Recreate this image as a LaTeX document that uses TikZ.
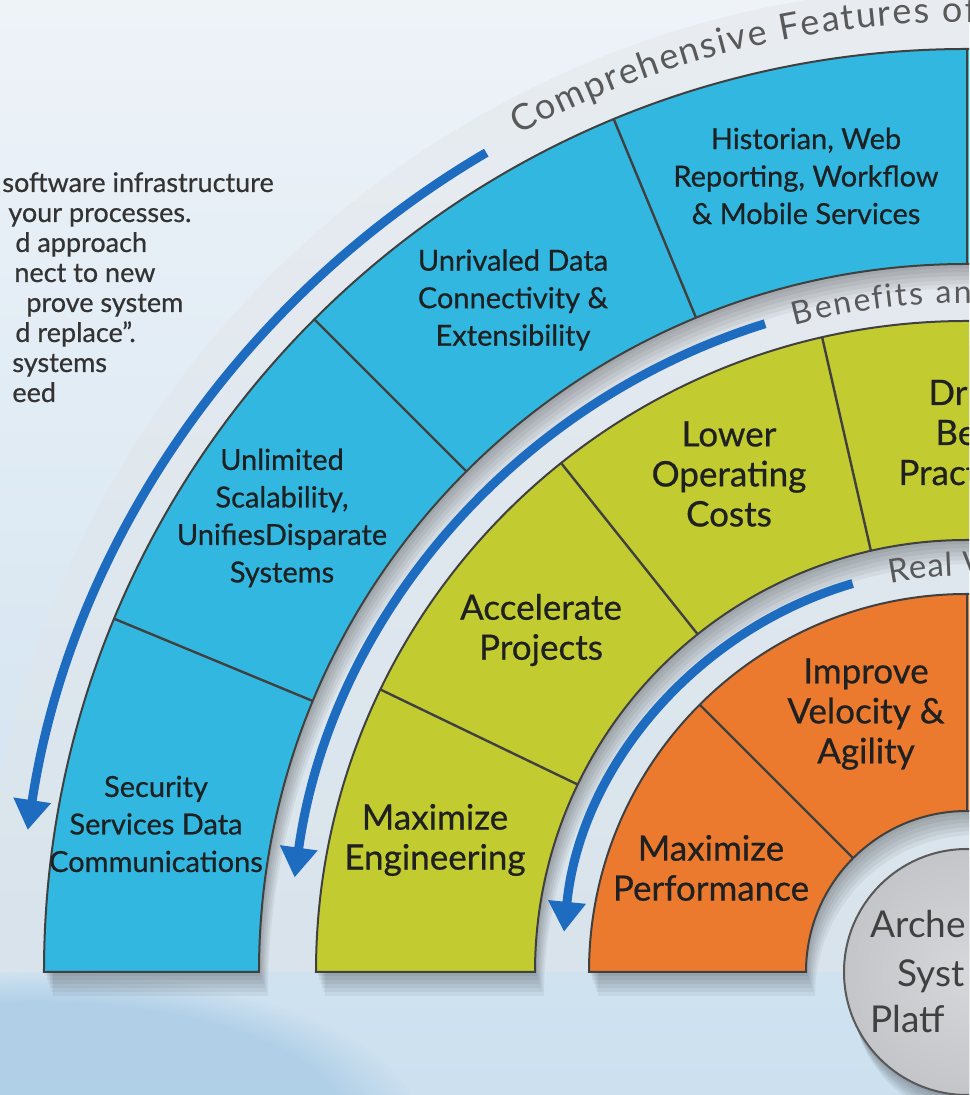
\documentclass[tikz,border=0pt]{standalone}
\usepackage{fontspec}
\setmainfont{Lato}
\newfontfamily\labelfont{Lato}[FakeBold=0.6]
\newfontfamily\arcfont{Lato}
\usetikzlibrary{arrows.meta,decorations.text,fadings}

\definecolor{bandblue}{RGB}{50,184,224}
\definecolor{bandgreen}{RGB}{194,204,48}
\definecolor{bandorange}{RGB}{236,122,46}
\definecolor{flowblue}{RGB}{30,108,192}
\definecolor{hubgray}{RGB}{196,197,200}
\definecolor{hublight}{RGB}{214,215,218}
\definecolor{trackgray}{RGB}{226,229,232}
\definecolor{inkgray}{RGB}{30,32,34}
\definecolor{bgtop}{RGB}{238,243,248}
\definecolor{bgmid}{RGB}{228,237,244}
\definecolor{bgbot}{RGB}{204,224,239}
\definecolor{bgblob}{RGB}{170,204,230}

% one annular sector: inner radius, outer radius, start angle, end angle
\newcommand{\bandsec}[4]{(#3:#2) arc[start angle=#3,end angle=#4,radius=#2] -- (#4:#1) arc[start angle=#4,end angle=#3,radius=#1] -- cycle}

\tikzset{
  band/.style={draw=black!75, line width=1pt},
  divider/.style={draw=black!75, line width=1.2pt},
  flow/.style={draw=flowblue, line width=4.5pt, -{Triangle[width=18pt,length=15pt]}},
  lbl/.style={align=center, text=inkgray, font=\labelfont\fontsize{14.5}{18.75}\selectfont},
  lblbig/.style={align=center, text=inkgray, font=\labelfont\fontsize{17.5}{20}\selectfont},
  cutlbl/.style={anchor=base west, inner sep=0pt, text=inkgray, font=\labelfont\fontsize{17.5}{20}\selectfont},
  para/.style={anchor=base west, inner sep=0pt, text=black!80, font=\labelfont\fontsize{13.5}{15}\selectfont},
  hubtxt/.style={anchor=base west, inner sep=0pt, text=black!75, font=\fontsize{18.5}{22}\selectfont},
  arctxt/.style 2 args={decorate, decoration={text along path,
    text={|\arcfont\fontsize{#2}{#2}\selectfont\color{black!65}|#1},
    text align={fit to path}}},
}

\begin{document}
\begin{tikzpicture}[x=0.5pt,y=0.5pt]
  \useasboundingbox (-967,-123) rectangle (2,972);
  \clip (-967,-123) rectangle (2,972);
  \shade[top color=bgtop, middle color=bgmid, bottom color=bgbot] (-967,-123) rectangle (2,972);
  \fill[bgblob, opacity=.8, path fading=circle with fuzzy edge 20 percent] (-930,-150) ellipse (380 and 150);

  % tracks behind the bands
  \fill[trackgray, opacity=.45] (0:985) arc[start angle=0,end angle=180,radius=985] -- cycle;

  % shadows
  \foreach \s in {1,...,6} {
    \fill[black, opacity=.05, shift={(\s*1.5,-\s*4)}] \bandsec{708}{923}{0}{180};
    \fill[black, opacity=.05, shift={(\s*1.5,-\s*4)}] \bandsec{432}{651}{0}{180};
    \fill[black, opacity=.05, shift={(\s*1.5,-\s*4)}] \bandsec{161}{378}{0}{180};
    \fill[black, opacity=.05, shift={(\s*1.5,-\s*4)}] (0,0) circle (123);
  }

  % outer band
  \fill[bandblue] \bandsec{708}{923}{0}{180};
  \foreach \a in {22.5,45,...,157.5}
    \draw[divider] (\a:708) -- (\a:923);
  \draw[band] \bandsec{708}{923}{0}{180};

  % middle band
  \fill[bandgreen] \bandsec{432}{651}{0}{180};
  \foreach \k in {1,...,6}
    \draw[divider] ({\k*180/7}:432) -- ({\k*180/7}:651);
  \draw[band] \bandsec{432}{651}{0}{180};

  % inner band
  \fill[bandorange] \bandsec{161}{378}{0}{180};
  \foreach \a in {45,90,135}
    \draw[divider] (\a:161) -- (\a:378);
  \draw[band] \bandsec{161}{378}{0}{180};

  % hub
  \shade[inner color=hublight, outer color=hubgray] (0,0) circle (123);
  \draw[black!65, line width=1pt] (0,0) circle (123);

  % flow arrows
  \draw[flow] (120.4:950) arc[start angle=120.4,end angle=171.4,radius=950];
  \draw[flow] (107.3:679) arc[start angle=107.3,end angle=172,radius=679];
  \draw[flow] (106.4:405) arc[start angle=106.4,end angle=174.3,radius=405];

  % ring titles
  \path[arctxt={Comprehensive Features of}{18}]
    (118.2:950) arc[start angle=118.2,end angle=89.4,radius=950];
  \path[arctxt={Benefits an}{16}]
    (104.9:669) arc[start angle=104.9,end angle=89.6,radius=669];
  \path[arctxt={Real V}{16.5}]
    (101.2:396) arc[start angle=101.2,end angle=87.5,radius=396];

  \begin{scope}[shift={(-967,972)},yscale=-1]
    % side text
    \node[para] (p1) at (2,192) {software infrastructure};
    \node[para] (p2) at (8,222) {your processes.};
    \node[para] (p3) at (15,252) {d approach};
    \node[para] (p4) at (14,282) {nect to new};
    \node[para] (p5) at (26,312) {prove system};
    \node[para] (p6) at (15,342) {d replace”.};
    \node[para] (p7) at (12,372) {systems};
    \node[para] (p8) at (12,402) {eed};

    % outer band labels
    \node[lbl] (security) at (156,824) {Security\\Services Data\\Communications};
    \node[lbl] (scale) at (282,518) {Unlimited\\Scalability,\\UnifiesDisparate\\Systems};
    \node[lbl] (connect) at (513,300) {Unrivaled Data\\Connectivity \&\\Extensibility};
    \node[lbl] (historian) at (806,176) {Historian, Web\\Reporting, Workflow\\\& Mobile Services};

    % middle band labels
    \node[lblbig] (engineer) at (435,840) {Maximize\\Engineering};
    \node[lblbig] (projects) at (541,630) {Accelerate\\Projects};
    \node[lblbig] (costs) at (729,474) {Lower\\Operating\\Costs};
    \node[cutlbl] (drive1) at (928,405) {Dri};
    \node[cutlbl] (drive2) at (935,445) {Be};
    \node[cutlbl] (drive3) at (898,485) {Pract};

    % inner band labels
    \node[lblbig] (perform) at (711,868) {Maximize\\Performance};
    \node[lblbig] (velocity) at (866,714) {Improve\\Velocity \&\\Agility};

    % hub text
    \node[hubtxt] (hub1) at (870,938) {Arche};
    \node[hubtxt] (hub2) at (897,987) {Syst};
    \node[hubtxt] (hub3) at (870,1033) {Platf};
  \end{scope}
\end{tikzpicture}
\end{document}
